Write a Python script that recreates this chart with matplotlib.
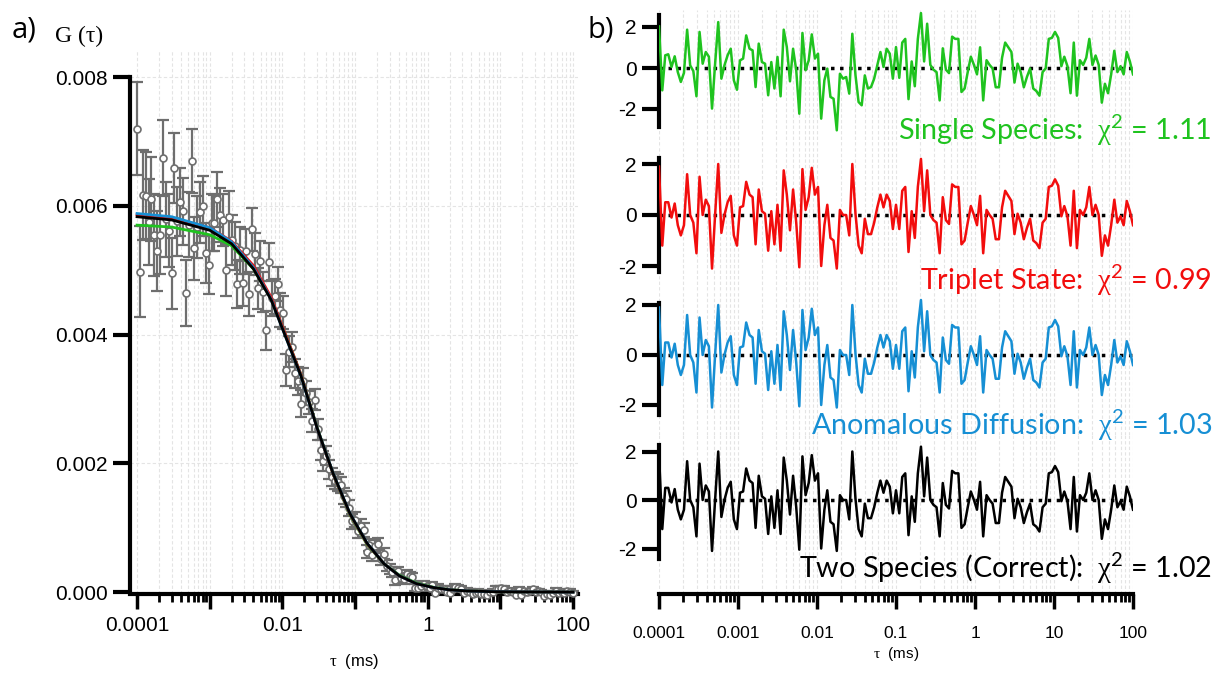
import matplotlib
matplotlib.use("Agg")
import matplotlib.pyplot as plt
from matplotlib.ticker import FixedLocator, NullFormatter, FixedFormatter
import numpy as np

plt.rcParams['font.family'] = ['Liberation Sans', 'DejaVu Sans']
plt.rcParams['mathtext.fontset'] = 'custom'
plt.rcParams['mathtext.rm'] = 'Liberation Serif'
plt.rcParams['mathtext.sf'] = 'Lato'

# lag times (ms)
tau = [0.0001, 0.00011, 0.00012, 0.000131, 0.000144, 0.000158, 0.000173, 0.000189, 0.000207, 0.000227,
       0.000248, 0.000272, 0.000298, 0.000326, 0.000357, 0.000391, 0.000428, 0.000469, 0.000513, 0.000562,
       0.000616, 0.000674, 0.000739, 0.000809, 0.000886, 0.00097, 0.00106, 0.00116, 0.00127, 0.0014,
       0.00153, 0.00167, 0.00183, 0.00201, 0.0022, 0.00241, 0.00264, 0.00289, 0.00316, 0.00346,
       0.00379, 0.00415, 0.00455, 0.00498, 0.00546, 0.00597, 0.00654, 0.00717, 0.00785, 0.00859,
       0.00941, 0.0103, 0.0113, 0.0124, 0.0135, 0.0148, 0.0162, 0.0178, 0.0195, 0.0213,
       0.0234, 0.0256, 0.028, 0.0307, 0.0336, 0.0368, 0.0403, 0.0441, 0.0483, 0.0529,
       0.058, 0.0635, 0.0695, 0.0761, 0.0834, 0.0913, 0.1, 0.11, 0.12, 0.131,
       0.144, 0.158, 0.173, 0.189, 0.207, 0.227, 0.248, 0.272, 0.298, 0.326,
       0.357, 0.391, 0.428, 0.469, 0.513, 0.562, 0.616, 0.674, 0.739, 0.809,
       0.886, 0.97, 1.06, 1.16, 1.27, 1.4, 1.53, 1.67, 1.83, 2.01,
       2.2, 2.41, 2.64, 2.89, 3.16, 3.46, 3.79, 4.15, 4.55, 4.98,
       5.46, 5.97, 6.54, 7.17, 7.85, 8.59, 9.41, 10.3, 11.3, 12.4,
       13.5, 14.8, 16.2, 17.8, 19.5, 21.3, 23.4, 25.6, 28, 30.7,
       33.6, 36.8, 40.3, 44.1, 48.3, 52.9, 58, 63.5, 69.5, 76.1,
       83.4, 91.3, 100]

# G(tau) data points and error bars, in units of 1e-3
g_data = [7.198, 4.979, 6.168, 6.156, 5.747, 6.102, 5.551, 5.304, 5.554, 6.742, 5.789, 5.615, 4.954, 6.584, 5.757,
          6.062, 5.915, 4.644, 5.709, 6.692, 5.341, 5.672, 5.898, 5.999, 5.268, 5.081, 5.735, 5.727, 6.103, 5.855,
          5.779, 5.000, 5.831, 5.466, 5.376, 4.788, 5.309, 4.797, 5.291, 4.626, 5.632, 5.248, 4.718, 5.144, 4.662,
          4.064, 5.123, 4.568, 4.592, 4.786, 4.382, 4.340, 3.445, 3.733, 3.809, 3.401, 3.273, 2.925, 3.275, 3.091,
          2.947, 2.663, 2.991, 2.527, 2.206, 2.039, 2.118, 1.906, 1.782, 1.733, 1.707, 1.664, 1.492, 1.446, 1.307,
          1.097, 1.126, 0.945, 1.027, 0.963, 0.628, 0.729, 0.575, 0.709, 0.751, 0.512, 0.593, 0.408, 0.357, 0.315,
          0.190, 0.320, 0.226, 0.196, 0.279, 0.250, 0.227, 0.070, 0.066, 0.097, 0.122, 0.094, 0.064, 0.110, -0.008,
          0.069, 0.053, 0.040, -0.004, -0.010, 0.046, 0.073, 0.060, 0.048, -0.013, 0.020, 0.003, -0.027, -0.008,
          0.006, -0.032, -0.037, -0.046, -0.005, 0.000, 0.050, 0.052, 0.061, 0.050, 0.002, 0.017, 0.001, -0.044,
          0.039, -0.048, 0.010, 0.002, 0.013, 0.043, 0.001, 0.016, 0.001, -0.058, -0.028, -0.043, -0.014, 0.022,
          -0.010, -0.001, -0.014, 0.020, 0.005, -0.014]
g_err = [0.720, 0.706, 0.692, 0.678, 0.664, 0.650, 0.636, 0.622, 0.607, 0.593, 0.579, 0.565, 0.551, 0.543, 0.536,
         0.528, 0.520, 0.513, 0.505, 0.498, 0.490, 0.483, 0.475, 0.468, 0.460, 0.453, 0.444, 0.436, 0.428, 0.420,
         0.411, 0.403, 0.395, 0.387, 0.378, 0.370, 0.362, 0.353, 0.346, 0.339, 0.332, 0.326, 0.319, 0.312, 0.305,
         0.299, 0.292, 0.285, 0.278, 0.271, 0.265, 0.257, 0.249, 0.241, 0.232, 0.224, 0.216, 0.208, 0.199, 0.191,
         0.183, 0.175, 0.166, 0.159, 0.155, 0.152, 0.148, 0.144, 0.140, 0.136, 0.133, 0.129, 0.125, 0.121, 0.118,
         0.114, 0.110, 0.108, 0.105, 0.103, 0.100, 0.098, 0.095, 0.093, 0.090, 0.088, 0.085, 0.083, 0.080, 0.078,
         0.076, 0.073, 0.071, 0.069, 0.067, 0.064, 0.062, 0.060, 0.058, 0.055, 0.053, 0.051, 0.050, 0.049, 0.049,
         0.049, 0.048, 0.048, 0.047, 0.047, 0.047, 0.046, 0.046, 0.045, 0.045, 0.045, 0.044, 0.044, 0.043, 0.043,
         0.043, 0.042, 0.042, 0.041, 0.041, 0.041, 0.040, 0.040, 0.040, 0.040, 0.039, 0.039, 0.039, 0.039, 0.039,
         0.038, 0.038, 0.038, 0.038, 0.038, 0.037, 0.037, 0.037, 0.037, 0.037, 0.036, 0.036, 0.036, 0.036, 0.036,
         0.035, 0.035, 0.035]

# fit curves (units of 1e-3)
fit_tau = [1e-4, 3e-4, 1e-3, 2e-3, 4e-3, 7e-3, 0.0115, 0.018, 0.03, 0.05, 0.085, 0.146, 0.25, 0.41, 0.7, 1.2, 2, 3.5, 8, 20, 100]
fit_two = [5.83, 5.78, 5.62, 5.41, 5.02, 4.54, 3.92, 3.36, 2.55, 1.84, 1.22, 0.76, 0.44, 0.25, 0.13, 0.07, 0.035, 0.017, 0.006, 0.002, 0.0]
fit_trip = [5.86, 5.81, 5.66, 5.45, 5.07, 4.58, 3.95, 3.38, 2.55, 1.83, 1.21, 0.75, 0.44, 0.25, 0.13, 0.07, 0.035, 0.017, 0.006, 0.002, 0.0]
fit_anom = [5.88, 5.83, 5.66, 5.44, 5.04, 4.55, 3.92, 3.36, 2.55, 1.84, 1.22, 0.76, 0.44, 0.25, 0.13, 0.07, 0.035, 0.017, 0.006, 0.002, 0.0]
fit_single = [5.70, 5.67, 5.55, 5.38, 5.02, 4.56, 3.95, 3.38, 2.56, 1.83, 1.20, 0.74, 0.44, 0.26, 0.14, 0.075, 0.037, 0.018, 0.006, 0.002, 0.0]

# residuals
res_two = [1.9, -1.2, 0.5, 0.5, -0.1, 0.45, -0.4, -0.8, -0.4, 1.6, 0.0, -0.3, -1.5, 1.5, 0.0, 0.6, 0.35, -2.1, 0.0, 2.0,
           -0.7, 0.0, 0.5, 0.75, -0.8, -1.2, 0.3, 0.35, 1.3, 0.8, 0.7, -1.15, 1.0, 0.15, 0.05, -1.4, 0.15, -1.15, 0.4,
           -1.4, 1.75, 0.8, -0.6, 1.0, -0.3, -2.05, 1.8, 0.2, 0.7, 1.85, 0.8, 1.1, -2.0, -0.4, 0.4, -0.9, -1.0, -2.1, 0.2,
           0.0, 0.0, -0.8, 2.0, 0.05, -1.2, -1.5, -0.15, -0.75, -0.75, -0.3, 0.3, 0.8, 0.3, 0.8, 0.55, -0.55, 0.4,
           -0.55, 0.95, 1.1, -1.45, 0.15, -0.9, 1.1, 2.2, 0.15, 1.75, 0.0, -0.2, -0.3, -1.5, 0.7, -0.2, -0.35, 1.2, 1.1,
           1.1, -1.15, -1.0, -0.3, 0.35, 0.0, -0.4, 0.75, -1.5, 0.2, 0.0, -0.15, -0.95, -0.95, 0.3, 0.95, 0.75, 0.55, -0.75,
           0.05, -0.3, -0.95, -0.5, -0.15, -1.0, -1.1, -1.3, -0.3, -0.15, 1.1, 1.15, 1.4, 1.15, -0.05, 0.35, -0.05, -1.2,
           0.95, -1.3, 0.2, 0.0, 0.3, 1.1, 0.0, 0.4, 0.0, -1.6, -0.8, -1.2, -0.4, 0.6, -0.3, -0.05, -0.4, 0.55, 0.15, -0.4]
res_single = [2.03, -1.09, 0.62, 0.67, 0.05, 0.57, -0.2, -0.68, -0.24, 1.87, 0.13, -0.15, -1.38, 1.76, 0.21, 0.78, 0.55,
              -1.98, 0.2, 2.24, -0.52, 0.13, 0.62, 0.94, -0.6, -1.06, 0.37, 0.46, 1.59, 0.94, 0.86, -0.93, 1.19, 0.29,
              0.21, -1.33, 0.29, -1.0, 0.54,
              -1.38, 1.87, 1.02, -0.65, 0.94, -0.11, -2.23, 1.71, -0.11, 0.37, 1.64, 0.46, 0.7, -2.47, -0.6, -0.03,
              -1.41, -1.5, -3.04, -0.28, -0.52, -0.44, -1.25, 1.67, -0.35, -1.66, -1.82, -0.36, -1.0, -0.93, -0.52,
              0.13, 0.78, 0.05, 0.94, 0.7, -0.52, 1.02,
              -0.48, 1.24, 1.42, -1.52, 0.32, -0.89, 1.42, 2.68, 0.32, 2.16, 0.15, -0.08, -0.2, -1.58, 0.96, -0.08,
              -0.25, 1.53, 1.42, 1.42, -1.17, -1.0, -0.2, 0.55, 0.15, -0.31, 1.01, -1.58, 0.38, 0.15, -0.02, -0.94,
              -0.94, 0.5, 1.24, 1.01, 0.78, -0.71,
              0.21, -0.2, -0.94, -0.43, -0.02, -1.0, -1.12, -1.35, -0.2, -0.02, 1.42, 1.47, 1.76, 1.47, 0.09, 0.55,
              0.09, -1.23, 1.24, -1.35, 0.38, 0.15, 0.5, 1.42, 0.15, 0.61, 0.15, -1.69, -0.77, -1.23, -0.31, 0.84,
              -0.2, 0.09, -0.31, 0.78, 0.32, -0.31]

GREEN = '#1fc31f'
RED = '#f20d0d'
BLUE = '#168fd4'
GRAY = '#6e6e6e'

fig = plt.figure(figsize=(12.17, 6.76), dpi=100)
W, H = 1217.0, 676.0


def px_axes(x0, y0, x1, y1):
    return fig.add_axes([x0 / W, 1 - y1 / H, (x1 - x0) / W, (y1 - y0) / H])


decades = [1e-4, 1e-3, 1e-2, 1e-1, 1, 10, 100]
minors = [m * d for d in decades[:-1] for m in range(2, 10)]

# ---- panel a
ax = px_axes(130, 50, 578, 594)
ax.set_xscale('log')
ax.set_xlim(8.0e-5, 117)
ax.set_ylim(-0.00003, 0.00842)
gd = np.array(g_data) / 1000
ax.errorbar(tau, gd, yerr=np.array(g_err) / 1000, fmt='none', ecolor=GRAY, elinewidth=1.6,
            capsize=4.5, capthick=1.6, zorder=2)
ax.plot(tau, gd, 'o', ms=5, mfc='white', mec=GRAY, mew=1.2, zorder=3, clip_on=False)
ax.plot(fit_tau, np.array(fit_single) / 1000, color=GREEN, lw=2, zorder=4)
ax.plot(fit_tau, np.array(fit_trip) / 1000, color=RED, lw=2, zorder=4)
ax.plot(fit_tau, np.array(fit_anom) / 1000, color=BLUE, lw=2, zorder=4)
ax.plot(fit_tau, np.array(fit_two) / 1000, color='black', lw=2, zorder=5)

for s in ['top', 'right']:
    ax.spines[s].set_visible(False)
ax.spines['left'].set_linewidth(3)
ax.spines['bottom'].set_linewidth(3)
ax.spines['left'].set_bounds(0, 0.008)
ax.set_yticks([0, 0.002, 0.004, 0.006, 0.008])
ax.set_yticklabels(['0.000', '0.002', '0.004', '0.006', '0.008'])
ax.xaxis.set_major_locator(FixedLocator(decades))
ax.xaxis.set_major_formatter(FixedFormatter(['0.0001', '', '0.01', '', '1', '', '100']))
ax.xaxis.set_minor_locator(FixedLocator(minors))
ax.xaxis.set_minor_formatter(NullFormatter())
ax.tick_params(axis='y', length=12, width=3, labelsize=15, pad=4)
ax.tick_params(axis='x', which='major', length=11, width=2.5, labelsize=15, pad=5)
ax.tick_params(axis='x', which='minor', length=6, width=2)
ax.grid(True, which='both', color='#e4e4e4', ls=(0, (3, 2)), lw=0.8)
ax.set_axisbelow(True)
ax.set_xlabel(r'$\mathrm{\tau}$  (ms)', fontsize=12, labelpad=12)

fig.text(12 / W, 1 - 30 / H, 'a)', fontsize=21, family='Open Sans', va='center')
fig.text(55 / W, 1 - 36 / H, 'G (τ)', fontsize=17, family='Liberation Serif', va='center')
fig.text(588 / W, 1 - 30 / H, 'b)', fontsize=21, family='Open Sans', va='center')

# ---- panel b
chi = r'$\mathrm{\chi}^{\mathsf{2}}$'
panels = [
    # top px, bottom px, zero px, px per unit, spine top, spine bottom, residuals, colour, label, label y
    (10, 145, 68, 20.5, 2.6, -2.9, res_single, GREEN, 'Single Species:  ' + chi + ' = 1.11', 130),
    (145, 290, 215, 25.5, 2.25, -2.25, res_two, RED, 'Triplet State:  ' + chi + ' = 0.99', 280),
    (290, 435, 355, 25.0, 2.1, -2.4, res_two, BLUE, 'Anomalous Diffusion:  ' + chi + ' = 1.03', 425),
    (435, 594, 500, 24.25, 2.25, -2.45, res_two, 'black', 'Two Species (Correct):  ' + chi + ' = 1.02', 568),
]
for i, (t, b, z, k, st, sb, rr, col, lab, ly) in enumerate(panels):
    a = px_axes(659, t, 1133, b)
    a.set_xscale('log')
    a.set_xlim(1e-4, 100)
    a.set_ylim(-(b - z) / k, (z - t) / k)
    a.plot(tau, rr, color=col, lw=1.8, zorder=3)
    a.axhline(0, color='black', ls=(0, (1, 1.6)), lw=2.5, zorder=2)
    for s in ['top', 'right']:
        a.spines[s].set_visible(False)
    a.spines['left'].set_linewidth(3)
    a.spines['left'].set_bounds(sb, st)
    a.set_yticks([-2, 0, 2])
    a.set_yticklabels(['-2', '0', '2'])
    a.tick_params(axis='y', length=12, width=3, labelsize=15, pad=4)
    a.xaxis.set_major_locator(FixedLocator(decades))
    a.xaxis.set_minor_locator(FixedLocator(minors))
    a.xaxis.set_minor_formatter(NullFormatter())
    a.grid(True, which='both', axis='x', color='#e4e4e4', ls=(0, (3, 2)), lw=0.8)
    a.set_axisbelow(True)
    a.patch.set_alpha(0)
    if i < 3:
        a.spines['bottom'].set_visible(False)
        a.tick_params(axis='x', which='both', length=0, labelbottom=False)
    else:
        a.spines['bottom'].set_linewidth(3)
        a.xaxis.set_major_formatter(FixedFormatter(['0.0001', '0.001', '0.01', '0.1', '1', '10', '100']))
        a.tick_params(axis='x', which='major', length=11, width=2.5, labelsize=12.5, pad=12)
        a.tick_params(axis='x', which='minor', length=6, width=2)
        a.set_xlabel(r'$\mathrm{\tau}$  (ms)', fontsize=11, labelpad=3)
    fig.text(1212 / W, 1 - ly / H, lab, color=col, fontsize=20.7, family='Lato', ha='right', va='center')

fig.savefig('out.png', dpi=100)
